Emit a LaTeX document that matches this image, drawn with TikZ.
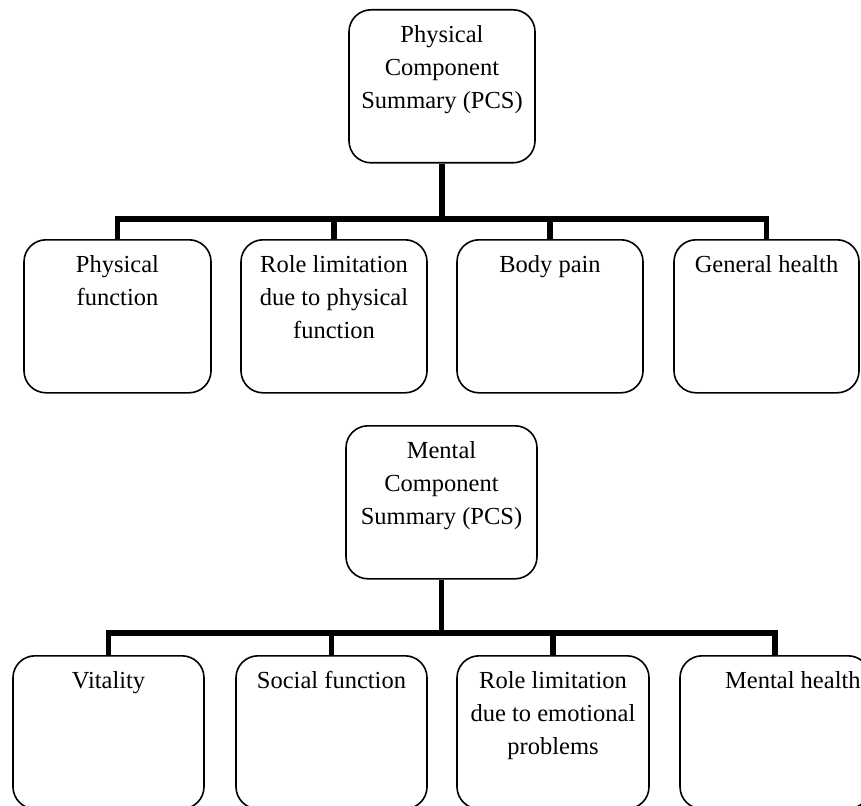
\documentclass[tikz,border=0pt]{standalone}
\usepackage{fontspec}
\setmainfont{Liberation Serif}
\tikzset{
  box/.style={draw, line width=1.6pt, rounded corners=22pt, minimum height=153pt, minimum width=187pt, inner sep=0pt, anchor=north},
  txt/.style={align=center, inner sep=0pt, anchor=north, font=\fontsize{24.5}{33}\selectfont},
  conn/.style={line width=5.5pt, line join=miter}
}
\begin{document}
\begin{tikzpicture}[x=1pt,y=-1pt]
\useasboundingbox (0,0) rectangle (861,805);
% top tree
\node[box, minimum width=186pt] (pcs) at (442,9) {};
\node[txt] (pcst) at ([yshift=-16pt]pcs.north) {Physical\\Component\\Summary (PCS)};
\node[box] (p1) at (117.5,239) {};
\node[box, minimum width=186pt] (p2) at (334,239) {};
\node[box, minimum width=186pt] (p3) at (550,239) {};
\node[box, minimum width=185pt] (p4) at (766.5,239) {};
\node[txt] (p1t) at ([yshift=-16pt]p1.north) {Physical\\function};
\node[txt] (p2t) at ([yshift=-16pt]p2.north) {Role limitation\\due to physical\\function};
\node[txt] (p3t) at ([yshift=-16pt]p3.north) {Body pain};
\node[txt] (p4t) at ([yshift=-16pt]p4.north) {General health};
\coordinate (j1) at (442,219);
\draw[conn] (pcs.south) -- (j1);
\draw[conn] (p1.north) |- (j1) -| (p4.north);
\draw[conn] (p2.north) -- (p2.north |- j1);
\draw[conn] (p3.north) -- (p3.north |- j1);
% bottom tree
\node[box, minimum width=191pt] (mcs) at (441.5,425) {};
\node[txt] (mcst) at ([yshift=-16pt]mcs.north) {Mental\\Component\\Summary (PCS)};
\node[box, minimum width=191pt] (m1) at (108.5,655) {};
\node[box, minimum width=191pt] (m2) at (331.5,655) {};
\node[box, minimum width=192pt] (m3) at (553,655) {};
\node[box, minimum width=190pt] (m4) at (775,655) {};
\node[txt] (m1t) at ([yshift=-16pt]m1.north) {Vitality};
\node[txt] (m2t) at ([yshift=-16pt]m2.north) {Social function};
\node[txt] (m3t) at ([yshift=-16pt]m3.north) {Role limitation\\due to emotional\\problems};
\node[txt, anchor=north west] (m4t) at ([xshift=-50pt,yshift=-16pt]m4.north) {Mental health};
\coordinate (j2) at (441.5,633);
\draw[conn] (mcs.south) -- (j2);
\draw[conn] (m1.north) |- (j2) -| (m4.north);
\draw[conn] (m2.north) -- (m2.north |- j2);
\draw[conn] (m3.north) -- (m3.north |- j2);
\end{tikzpicture}
\end{document}
